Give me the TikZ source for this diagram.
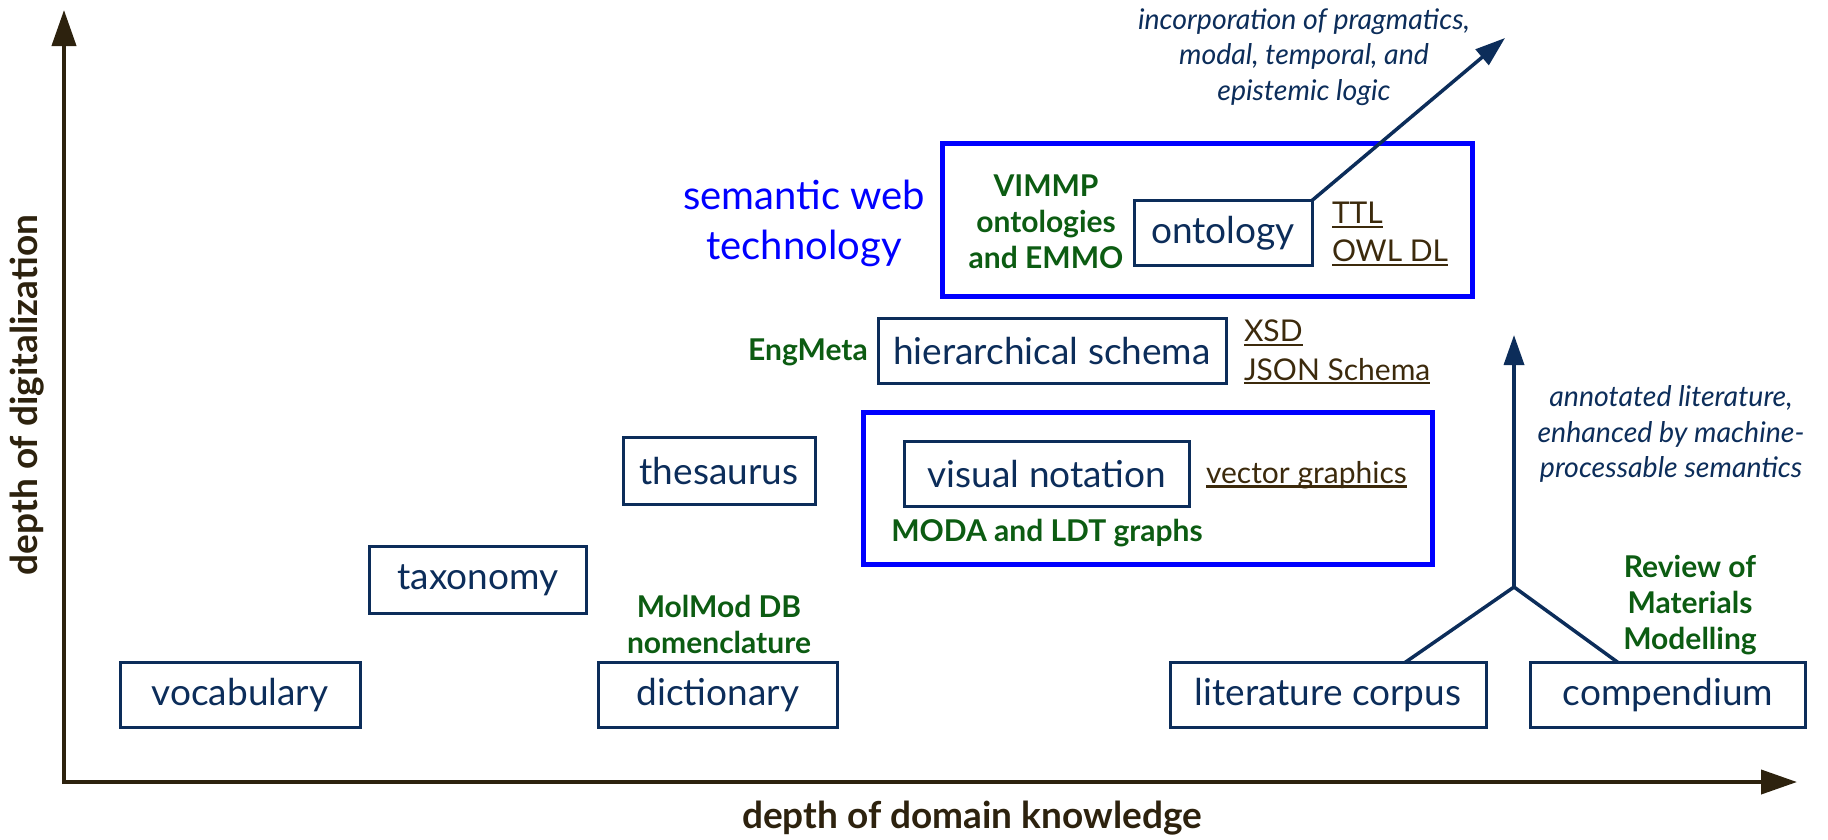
\documentclass[tikz,border=0pt]{standalone}
\usepackage{fontspec}
\setmainfont{Lato}
\usetikzlibrary{arrows.meta}
\definecolor{navy}{RGB}{12,45,90}
\definecolor{leafgreen}{RGB}{12,92,18}
\definecolor{umber}{RGB}{60,42,12}
\definecolor{axisbrown}{RGB}{45,34,14}
\definecolor{pureblue}{RGB}{0,0,255}
% underlined format names
\newcommand\ulbox[1]{\setbox0=\hbox{#1}\rlap{\rule[-0.14em]{\wd0}{0.07em}}\box0}
\begin{document}
\begin{tikzpicture}[x=1pt,y=-1pt,
  every node/.style={inner sep=0pt, outer sep=0pt},
  kbox/.style={draw=navy, line width=3pt, text=navy, minimum height=65pt,
    font=\fontsize{37}{44}\selectfont},
  groupframe/.style={draw=pureblue, line width=5pt},
  tool/.style={text=leafgreen, font=\fontsize{30}{36}\selectfont\bfseries, align=center},
  fmt/.style={text=umber, font=\fontsize{30}{38.5}\selectfont, align=left},
  note/.style={text=navy, font=\fontsize{28.5}{35.5}\selectfont\itshape, align=center},
  axislabel/.style={text=axisbrown, font=\fontsize{37}{44}\selectfont\bfseries},
  axis/.style={draw=axisbrown, line width=4pt, -{Triangle[length=36pt,width=24pt]}},
  link/.style={draw=navy, line width=3.5pt},
  linkarrow/.style={link, -{Triangle[length=30pt,width=20pt]}},
]
\useasboundingbox (0,0) rectangle (1828,839);

% axes
\coordinate (origin) at (64,782);
\coordinate (ytip) at (64,10);
\coordinate (xtip) at (1797,782);
\draw[axis] ([yshift=-2pt]origin) -- (ytip);
\draw[axis] ([xshift=-2pt]origin) -- (xtip);
\node[axislabel, rotate=90] (ylab) at (27,395) {depth of digitalization};
\node[axislabel, anchor=base] (xlab) at (972,828) {depth of domain knowledge};

% grouping frames
\node[groupframe, minimum width=530pt, minimum height=153pt] (semframe) at (1207,219.5) {};
\node[groupframe, minimum width=569pt, minimum height=152pt] (visframe) at (1147.5,488) {};

% knowledge representations
\node[kbox, minimum width=240pt] (vocab) at (240,695) {vocabulary};
\node[kbox, minimum width=217pt, minimum height=67pt] (taxo) at (478,580) {taxonomy};
\node[kbox, minimum width=192pt, minimum height=67pt] (thes) at (719,471) {thesaurus};
\node[kbox, minimum width=239pt] (dict) at (718,695) {dictionary};
\node[kbox, minimum width=285pt] (visnot) at (1047,474) {visual notation};
\node[kbox, minimum width=348pt] (hier) at (1052,351) {hierarchical schema};
\node[kbox, minimum width=178pt] (onto) at (1223,233) {ontology};
\node[kbox, minimum width=316pt] (lit) at (1328,695) {literature corpus};
\node[kbox, minimum width=275pt] (comp) at (1668,695) {compendium};

% examples
\node[tool] (molmod) at (719,624) {MolMod DB\\nomenclature};
\node[tool] (moda) at (1047,533) {MODA and LDT graphs};
\node[tool] (engmeta) at (808,352) {EngMeta};
\node[tool] (vimmp) at (1046,222) {VIMMP\\ontologies\\and EMMO};
\node[tool] (romm) at (1690,605) {Review of\\Materials\\Modelling};

% formats
\node[fmt, anchor=west] (vecgr) at (1206,475) {\ulbox{vector graphics}};
\node[fmt, anchor=west] (xsd) at (1244,352) {\ulbox{XSD}\\\ulbox{JSON Schema}};
\node[fmt, anchor=west] (ttl) at (1332,234) {\ulbox{TTL}\\\ulbox{OWL DL}};

\node[text=pureblue, font=\fontsize{40}{50}\selectfont, align=center] (semweb) at (804,223)
  {semantic web\\technology};

% outlook arrows
\coordinate (ontotip) at (1505,38);
\draw[linkarrow] (onto.north east) -- (ontotip);
\node[note] (logic) at (1304,57) {incorporation of pragmatics,\\modal, temporal, and\\epistemic logic};

\coordinate (join) at (1514,587);
\coordinate (littip) at (1514,335);
\draw[link] ([xshift=77pt]lit.north) -- (join);
\draw[link] ([xshift=-50pt]comp.north) -- (join);
\draw[linkarrow] (join) -- (littip);
\node[note] (annot) at (1671,434) {annotated literature,\\enhanced by machine-\\processable semantics};
\end{tikzpicture}
\end{document}
